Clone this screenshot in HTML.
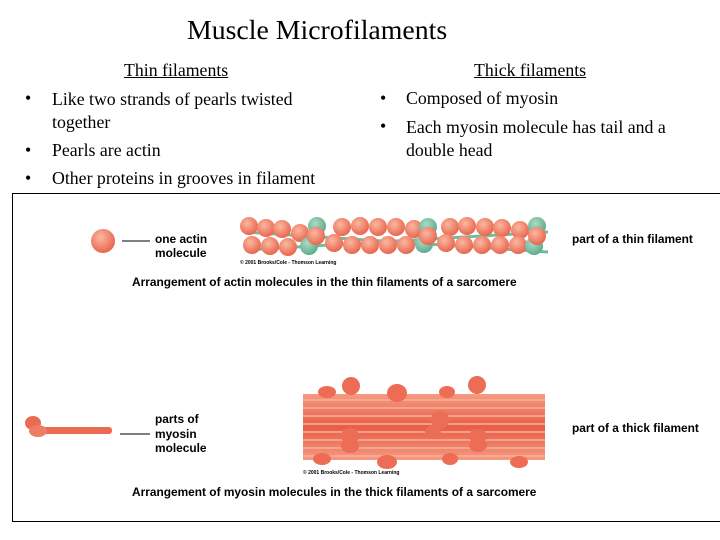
<!DOCTYPE html>
<html><head><style>
body{margin:0;width:720px;height:540px;background:#fff;overflow:hidden;position:relative;font-family:"Liberation Serif",serif}
.t{position:absolute;white-space:nowrap}
.s{font-family:"Liberation Sans",sans-serif;font-weight:bold;font-size:11.9px}
.b{font-size:17.8px}
</style></head><body>
<div class="t" style="left:187px;top:15px;font-size:27.8px">Muscle Microfilaments</div>
<div class="t b" style="left:124px;top:60px;text-decoration:underline">Thin filaments</div>
<div class="t b" style="left:474px;top:60px;text-decoration:underline">Thick filaments</div>
<div class="t b" style="left:25px;top:88px">•</div><div class="t b" style="left:52px;top:88px;line-height:23px">Like two strands of pearls twisted<br>together</div>
<div class="t b" style="left:25px;top:140px">•</div><div class="t b" style="left:52px;top:140px">Pearls are actin</div>
<div class="t b" style="left:25px;top:168px">•</div><div class="t b" style="left:52px;top:168px">Other proteins in grooves in filament</div>
<div class="t b" style="left:380px;top:88px">•</div><div class="t b" style="left:406px;top:88px">Composed of myosin</div>
<div class="t b" style="left:380px;top:116px">•</div><div class="t b" style="left:406px;top:116px;line-height:23px">Each myosin molecule has tail and a<br>double head</div>
<div style="position:absolute;left:12px;top:193px;width:708px;height:327px;border:1px solid #000;border-right:none"></div>
<svg style="position:absolute;left:0;top:0" width="720" height="540">
<defs>
<radialGradient id="r" cx="0.4" cy="0.35" r="0.7"><stop offset="0" stop-color="#fbb8a0"/><stop offset="1" stop-color="#e8604a"/></radialGradient>
<radialGradient id="g" cx="0.4" cy="0.35" r="0.7"><stop offset="0" stop-color="#a9dcc4"/><stop offset="1" stop-color="#5aa88a"/></radialGradient>
<linearGradient id="st" x1="0" y1="0" x2="0" y2="1"><stop offset="0" stop-color="#f59a80"/><stop offset=".5" stop-color="#e85d45"/><stop offset="1" stop-color="#f59a80"/></linearGradient>
</defs>
<circle cx="103" cy="241" r="12" fill="url(#r)"/>
<line x1="122" y1="241" x2="150" y2="241" stroke="#000"/>
<line x1="245" y1="232" x2="548" y2="252" stroke="#6cbf9c" stroke-width="3"/>
<line x1="245" y1="250" x2="548" y2="232" stroke="#6cbf9c" stroke-width="3"/>
<g>
<circle cx="249" cy="226" r="9" fill="url(#r)"/><circle cx="266" cy="228" r="9" fill="url(#r)"/><circle cx="282" cy="229" r="9" fill="url(#r)"/><circle cx="300" cy="233" r="9" fill="url(#r)"/><circle cx="317" cy="226" r="9" fill="url(#g)"/><circle cx="342" cy="227" r="9" fill="url(#r)"/><circle cx="360" cy="226" r="9" fill="url(#r)"/><circle cx="378" cy="227" r="9" fill="url(#r)"/><circle cx="396" cy="227" r="9" fill="url(#r)"/><circle cx="414" cy="229" r="9" fill="url(#r)"/><circle cx="428" cy="227" r="9" fill="url(#g)"/><circle cx="450" cy="227" r="9" fill="url(#r)"/><circle cx="467" cy="226" r="9" fill="url(#r)"/><circle cx="485" cy="227" r="9" fill="url(#r)"/><circle cx="502" cy="228" r="9" fill="url(#r)"/><circle cx="520" cy="230" r="9" fill="url(#r)"/><circle cx="537" cy="226" r="9" fill="url(#g)"/>
<circle cx="252" cy="245" r="9" fill="url(#r)"/><circle cx="270" cy="246" r="9" fill="url(#r)"/><circle cx="288" cy="247" r="9" fill="url(#r)"/><circle cx="309" cy="246" r="9" fill="url(#g)"/><circle cx="316" cy="236" r="9" fill="url(#r)"/><circle cx="334" cy="243" r="9" fill="url(#r)"/><circle cx="352" cy="245" r="9" fill="url(#r)"/><circle cx="370" cy="245" r="9" fill="url(#r)"/><circle cx="388" cy="245" r="9" fill="url(#r)"/><circle cx="406" cy="245" r="9" fill="url(#r)"/><circle cx="424" cy="244" r="9" fill="url(#g)"/><circle cx="428" cy="236" r="9" fill="url(#r)"/><circle cx="446" cy="243" r="9" fill="url(#r)"/><circle cx="464" cy="245" r="9" fill="url(#r)"/><circle cx="482" cy="245" r="9" fill="url(#r)"/><circle cx="500" cy="245" r="9" fill="url(#r)"/><circle cx="518" cy="245" r="9" fill="url(#r)"/><circle cx="534" cy="246" r="9" fill="url(#g)"/><circle cx="537" cy="236" r="9" fill="url(#r)"/>
</g>
<text x="240" y="264" font-family="Liberation Sans" font-size="5" font-weight="bold">© 2001 Brooks/Cole - Thomson Learning</text>
<rect x="303" y="394" width="242" height="66" fill="url(#st)"/>
<g stroke="#f7b09c" stroke-width="1.5">
<line x1="303" y1="400" x2="545" y2="400"/><line x1="303" y1="408" x2="545" y2="408"/><line x1="303" y1="416" x2="545" y2="416"/><line x1="303" y1="424" x2="545" y2="424"/><line x1="303" y1="432" x2="545" y2="432"/><line x1="303" y1="440" x2="545" y2="440"/><line x1="303" y1="448" x2="545" y2="448"/><line x1="303" y1="456" x2="545" y2="456"/></g>
<g fill="#ec6c55">
<ellipse cx="327" cy="392" rx="9" ry="6"/><ellipse cx="351" cy="386" rx="9" ry="9"/><ellipse cx="397" cy="393" rx="10" ry="9"/><ellipse cx="447" cy="392" rx="8" ry="6"/><ellipse cx="477" cy="385" rx="9" ry="9"/>
<ellipse cx="440" cy="420" rx="9" ry="9"/><ellipse cx="433" cy="432" rx="8" ry="7"/><ellipse cx="350" cy="436" rx="9" ry="8"/><ellipse cx="350" cy="446" rx="9" ry="7"/><ellipse cx="478" cy="436" rx="9" ry="7"/><ellipse cx="478" cy="445" rx="9" ry="7"/>
<ellipse cx="322" cy="459" rx="9" ry="6"/><ellipse cx="387" cy="462" rx="10" ry="7"/><ellipse cx="450" cy="459" rx="8" ry="6"/><ellipse cx="519" cy="462" rx="9" ry="6"/>
</g>
<text x="303" y="474" font-family="Liberation Sans" font-size="5" font-weight="bold">© 2001 Brooks/Cole - Thomson Learning</text>
<rect x="30" y="427" width="82" height="7" rx="3" fill="#ea6a52"/>
<ellipse cx="33" cy="423" rx="8" ry="7" fill="#ea6a52"/><ellipse cx="38" cy="431" rx="9" ry="6" fill="#ef7d65"/>
<line x1="120" y1="434" x2="150" y2="434" stroke="#000"/>
</svg>
<div class="t s" style="left:155px;top:232px;line-height:14px">one actin<br>molecule</div>
<div class="t s" style="left:572px;top:232px">part of a thin filament</div>
<div class="t s" style="left:132px;top:275px">Arrangement of actin molecules in the thin filaments of a sarcomere</div>
<div class="t s" style="left:155px;top:412px;line-height:14.5px">parts of<br>myosin<br>molecule</div>
<div class="t s" style="left:572px;top:421px">part of a thick filament</div>
<div class="t s" style="left:132px;top:485px">Arrangement of myosin molecules in the thick filaments of a sarcomere</div>
</body></html>
